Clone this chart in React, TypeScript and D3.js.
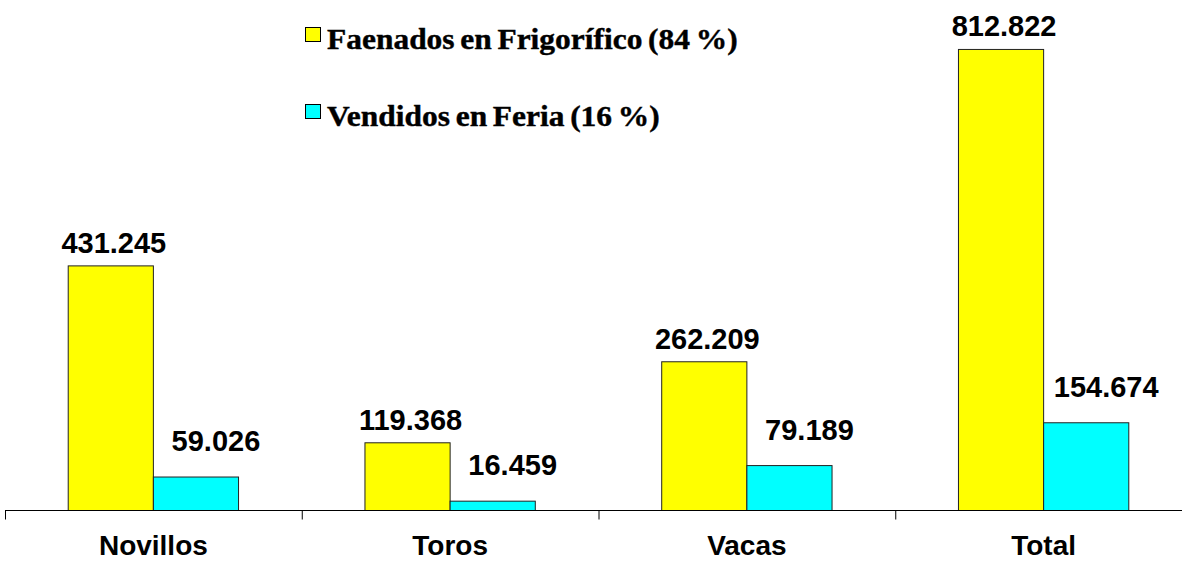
import React, { useEffect, useRef } from 'react'
import * as d3 from 'd3'

const categories = ['Novillos', 'Toros', 'Vacas', 'Total']
const seriesNames = ['Faenados en Frigorífico (84 %)', 'Vendidos en Feria (16 %)']
const seriesColors = ['#ffff00', '#00ffff']
const faenados = [431245, 119368, 262209, 812822]
const vendidos = [59026, 16459, 79189, 154674]

const formatValue = (v: number) => d3.format(',')(v).replace(/,/g, '.')

export default function App() {
  const svgRef = useRef<SVGSVGElement>(null)

  useEffect(() => {
    document.body.style.margin = '0'
    const svg = d3.select(svgRef.current)
    svg.selectAll('*').remove()

    const width = 1182
    const height = 561
    const baseline = 510.5

    const series = [faenados, vendidos]
    // label placement per series (excel-ish: feria labels sit higher and to the right)
    const labelGap = [13, 26]
    const labelShift = [3, 20]

    // outer band per category, inner band per series
    const x0 = d3.scaleBand<string>().domain(categories).range([5, 1192]).padding(0)
    const bw = x0.bandwidth()
    const x1 = d3.scaleBand<number>().domain([0, 1]).range([bw * 0.213, bw * 0.787]).padding(0)
    const y = d3.scaleLinear().domain([0, 900000]).range([baseline, 0])

    svg.attr('width', width).attr('height', height)

    const groups = svg.append('g')
      .selectAll('g')
      .data(categories)
      .join('g')
      .attr('transform', d => `translate(${x0(d)},0)`)

    groups.each(function (cat, ci) {
      const g = d3.select(this)
      series.forEach((vals, si) => {
        const v = vals[ci]
        g.append('rect')
          .attr('x', x1(si)!)
          .attr('y', y(v))
          .attr('width', x1.bandwidth())
          .attr('height', baseline - y(v))
          .attr('fill', seriesColors[si])
          .attr('stroke', '#222')
          .attr('stroke-width', 1)

        g.append('text')
          .attr('x', x1(si)! + x1.bandwidth() / 2 + labelShift[si])
          .attr('y', y(v) - labelGap[si])
          .attr('text-anchor', 'middle')
          .style('font-family', '"Liberation Sans", Arial, sans-serif')
          .style('font-size', '29px')
          .style('font-weight', '700')
          .style('fill', '#000')
          .text(formatValue(v))
      })
    })

    // x axis
    const axis = svg.append('g')
    axis.append('line')
      .attr('x1', 5).attr('x2', width)
      .attr('y1', baseline).attr('y2', baseline)
      .attr('stroke', '#000').attr('stroke-width', 1)

    axis.selectAll('line.tick')
      .data(categories)
      .join('line')
      .attr('class', 'tick')
      .attr('x1', d => x0(d)! + 0.5)
      .attr('x2', d => x0(d)! + 0.5)
      .attr('y1', baseline)
      .attr('y2', baseline + 9)
      .attr('stroke', '#000')

    axis.selectAll('text')
      .data(categories)
      .join('text')
      .attr('x', d => x0(d)! + bw / 2)
      .attr('y', 555)
      .attr('text-anchor', 'middle')
      .style('font-family', '"Liberation Sans", Arial, sans-serif')
      .style('font-size', '28px')
      .style('font-weight', '700')
      .text(d => d)

    // legend
    const legend = svg.append('g')
    const stretch = 1.085
    seriesNames.forEach((name, i) => {
      const ly = 49 + i * 77
      legend.append('rect')
        .attr('x', 305.5)
        .attr('y', ly - 21.5)
        .attr('width', 15)
        .attr('height', 14)
        .attr('fill', seriesColors[i])
        .attr('stroke', '#000')
        .attr('stroke-width', 1)
      legend.append('text')
        .attr('transform', `translate(327,${ly}) scale(${stretch},1)`)
        .style('font-family', '"Liberation Serif", "Times New Roman", serif')
        .style('font-size', '29px')
        .style('font-weight', '700')
        .style('word-spacing', '-2px')
        .style('stroke', '#000')
        .style('stroke-width', '0.4px')
        .text(name)
    })
  }, [])

  return <svg ref={svgRef} style={{ display: 'block' }} />
}
